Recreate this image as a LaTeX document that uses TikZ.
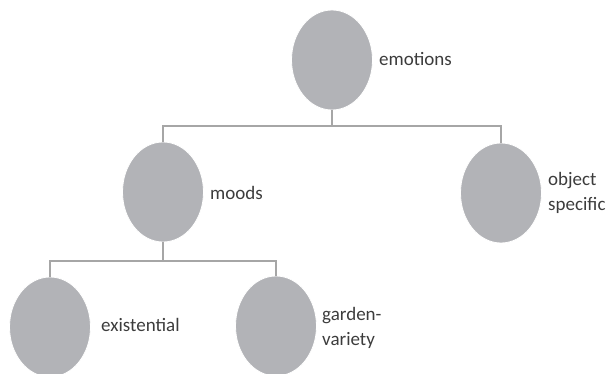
\documentclass[tikz,border=0pt]{standalone}
\usepackage{fontspec}
\setmainfont{Carlito}
\usetikzlibrary{shapes.geometric}
\definecolor{ballgray}{RGB}{178,179,183}
\definecolor{linegray}{RGB}{166,166,166}
\definecolor{txtgray}{RGB}{60,60,60}
\tikzset{
  ball/.style={ellipse, fill=ballgray, draw=white, line width=0.8pt, minimum width=81pt, minimum height=100pt, inner sep=0pt},
  conn/.style={draw=linegray, line width=1.8pt},
  lbl/.style={anchor=west, inner sep=0pt, text=txtgray, align=left, font=\fontsize{19}{25}\selectfont}
}
\begin{document}
\begin{tikzpicture}[x=1pt,y=-1pt]
\useasboundingbox (0,0) rectangle (608,374);
\node[ball] (emo) at (332,60) {};
\node[ball] (moods) at (163,192) {};
\node[ball] (obj) at (501,193) {};
\node[ball] (exi) at (50,327) {};
\node[ball] (gar) at (276,326) {};
\coordinate (j1) at (332,126);
\coordinate (j2) at (163,261);
\draw[conn] (emo.south) -- (j1);
\draw[conn] (j1) -| (moods.north);
\draw[conn] (j1) -| (obj.north);
\draw[conn] (moods.south) -- (j2);
\draw[conn] (j2) -| (exi.north);
\draw[conn] (j2) -| (gar.north);
\node[lbl] (temo) at (379,59) {emotions};
\node[lbl] (tmoods) at (210,193) {moods};
\node[lbl] (tobj) at (548,192.5) {object\\specific};
\node[lbl] (texi) at (101,325) {existential};
\node[lbl] (tgar) at (322,327.5) {garden-\\variety};
\end{tikzpicture}
\end{document}
